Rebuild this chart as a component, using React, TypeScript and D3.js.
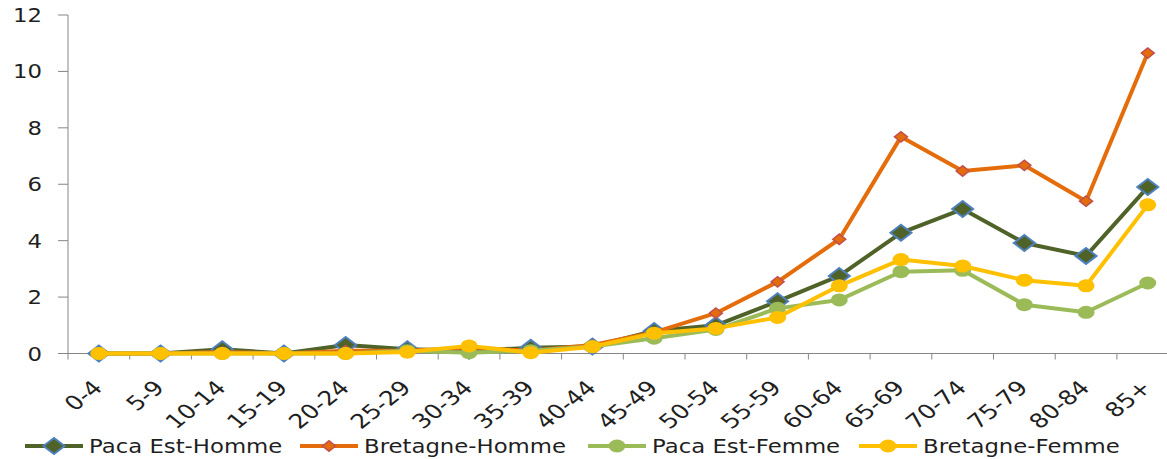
import React from "react";
import * as d3 from "d3";

const categories = ["0-4","5-9","10-14","15-19","20-24","25-29","30-34","35-39","40-44","45-49","50-54","55-59","60-64","65-69","70-74","75-79","80-84","85+"];
const pacaHomme = [0, 0, 0.15, 0, 0.3, 0.15, 0.1, 0.2, 0.25, 0.8, 1.0, 1.85, 2.75, 4.28, 5.12, 3.92, 3.46, 5.9];
const bretagneHomme = [0, 0, 0.05, 0, 0.1, 0.1, 0.2, 0.1, 0.3, 0.75, 1.43, 2.54, 4.05, 7.68, 6.47, 6.67, 5.4, 10.65];
const pacaFemme = [0, 0, 0, 0, 0, 0.1, 0.03, 0.1, 0.25, 0.54, 0.85, 1.6, 1.9, 2.9, 2.95, 1.73, 1.46, 2.5];
const bretagneFemme = [0, 0, 0, 0, 0, 0.05, 0.27, 0.03, 0.24, 0.72, 0.89, 1.28, 2.4, 3.33, 3.1, 2.6, 2.4, 5.27];
const yTicks = [0, 2, 4, 6, 8, 10, 12];

type Series = { name: string; values: number[]; color: string; marker: "bigDiamond" | "smallDiamond" | "circle"; mFill: string; mStroke: string };

const series: Series[] = [
  { name: "Paca Est-Homme", values: pacaHomme, color: "#4F6228", marker: "bigDiamond", mFill: "#4F6228", mStroke: "#4F81BD" },
  { name: "Bretagne-Homme", values: bretagneHomme, color: "#E46C0A", marker: "smallDiamond", mFill: "#E46C0A", mStroke: "#C0504D" },
  { name: "Paca Est-Femme", values: pacaFemme, color: "#9BBB59", marker: "circle", mFill: "#9BBB59", mStroke: "none" },
  { name: "Bretagne-Femme", values: bretagneFemme, color: "#FFC000", marker: "circle", mFill: "#FFC000", mStroke: "none" },
];

const W = 1167, H = 459;
const x0 = 68, step = 61.7;
const x = d3.scaleBand<string>().domain(categories).range([x0, x0 + step * categories.length]);
const y = d3.scaleLinear().domain([0, 12]).range([353.5, 15]);
const FONT = "'DejaVu Sans', sans-serif";
const TXT = "#1f1f1f";
const AX = "#868686";

function Marker({ s, cx, cy }: { s: Series; cx: number; cy: number }) {
  if (s.marker === "circle") return <ellipse cx={cx} cy={cy} rx={8.5} ry={6.5} fill={s.mFill} />;
  const rx = s.marker === "bigDiamond" ? 10.5 : 6.5;
  const ry = s.marker === "bigDiamond" ? 8 : 5.2;
  const sw = s.marker === "bigDiamond" ? 2 : 1.5;
  return <path d={`M${cx - rx},${cy}L${cx},${cy - ry}L${cx + rx},${cy}L${cx},${cy + ry}Z`} fill={s.mFill} stroke={s.mStroke} strokeWidth={sw} />;
}

const legendX = [25, 300, 588, 859];

export default function App() {
  const line = d3.line<number>().x((_, i) => (x(categories[i]) as number) + x.bandwidth() / 2).y((v) => y(v));
  const right = x0 + step * categories.length;
  return (
    <svg width={W} height={H} style={{ position: "fixed", left: 0, top: 0, background: "#fff" }}>
      <line x1={x0} x2={x0} y1={y(12)} y2={y(0)} stroke={AX} strokeWidth={1} />
      <line x1={x0} x2={right} y1={y(0)} y2={y(0)} stroke={AX} strokeWidth={1} />
      {yTicks.map((t) => (
        <g key={t}>
          <line x1={x0 - 10} x2={x0} y1={y(t)} y2={y(t)} stroke={AX} />
          <text transform={`translate(42,${y(t) + 7}) scale(1.2,1)`} textAnchor="end" fontFamily={FONT} fontSize={19} fill={TXT}>{t}</text>
        </g>
      ))}
      {d3.range(categories.length + 1).map((k) => (
        <line key={k} x1={x0 + k * step} x2={x0 + k * step} y1={y(0)} y2={y(0) + 6} stroke={AX} />
      ))}
      {categories.map((c) => {
        const cx = (x(c) as number) + x.bandwidth() / 2;
        return (
          <text key={c} transform={`translate(${cx + 5},389) scale(1.25,1) rotate(-45)`} textAnchor="end" fontFamily={FONT} fontSize={20} fill={TXT}>{c}</text>
        );
      })}
      {series.map((s) => (
        <g key={s.name}>
          <path d={line(s.values) || ""} fill="none" stroke={s.color} strokeWidth={4} strokeLinejoin="round" />
          {s.values.map((v, i) => (
            <Marker key={i} s={s} cx={(x(categories[i]) as number) + x.bandwidth() / 2} cy={y(v)} />
          ))}
        </g>
      ))}
      {series.map((s, i) => {
        const lx = legendX[i];
        const ly = 446;
        return (
          <g key={s.name}>
            <line x1={lx} x2={lx + 58} y1={ly} y2={ly} stroke={s.color} strokeWidth={4} />
            <Marker s={s} cx={lx + 29} cy={ly} />
            <text transform={`translate(${lx + 64},${ly + 7}) scale(1.2,1)`} fontFamily={FONT} fontSize={19} fill={TXT}>{s.name}</text>
          </g>
        );
      })}
    </svg>
  );
}
